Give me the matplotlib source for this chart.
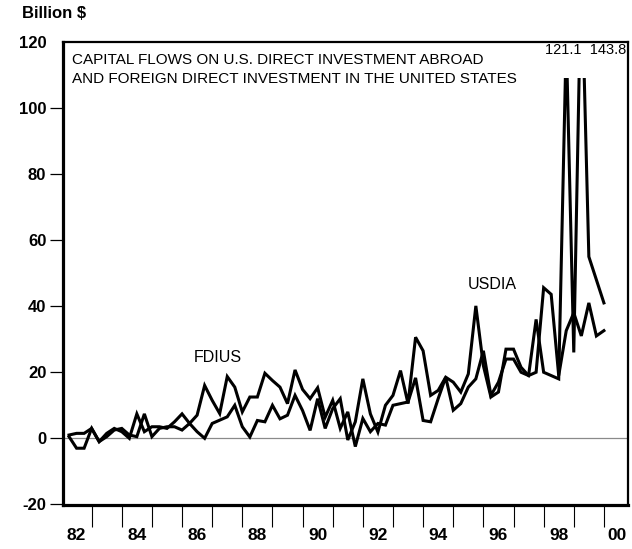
import numpy as np
import matplotlib
matplotlib.use('Agg')
import matplotlib.pyplot as plt
from matplotlib.patches import Rectangle

plt.rcParams['font.family'] = ['Liberation Sans', 'DejaVu Sans']

# ── 季度数据（十亿美元），1982Q1 - 1999Q4 ──────────────────────
first_year = 1982
last_year = 1999

fdius = [1.0, 1.5, 1.5, 3.0,   -1.0, 1.5, 3.0, 2.0,
         0.0, 7.4, 2.0, 3.5,   3.5, 3.0, 5.0, 7.4,
         4.5, 7.0, 16.0, 11.5, 7.5, 18.7, 15.5, 8.0,
         12.5, 12.5, 19.7, 17.5, 15.5, 10.5, 20.7, 14.8,
         12.0, 15.3, 6.4, 11.5, 3.0, 8.0, -2.5, 6.0,
         2.0, 4.5, 4.0, 10.0, 10.5, 11.0, 18.3, 5.4,
         5.0, 12.0, 18.5, 8.5, 10.5, 15.5, 18.0, 26.5,
         13.0, 17.0, 24.0, 24.0, 20.0, 19.0, 36.0, 20.0,
         19.0, 18.0, 121.1, 26.0, 143.8, 55.0, 48.0, 41.0]

usdia = [0.5, -3.0, -3.0, 3.0,  -1.0, 0.5, 2.5, 3.0,
         1.0, 0.5, 7.4, 0.5,    3.0, 3.5, 3.5, 2.5,
         4.5, 2.0, 0.0, 4.5,    5.5, 6.5, 10.0, 3.5,
         0.4, 5.4, 5.0, 10.0,   5.9, 7.0, 13.0, 8.4,
         2.4, 12.0, 3.0, 9.0,   12.0, -0.5, 5.0, 18.0,
         7.4, 1.9, 10.0, 13.0,  20.5, 10.5, 30.6, 26.5,
         13.0, 14.5, 18.5, 17.0, 14.0, 19.5, 40.1, 22.0,
         12.5, 14.0, 27.0, 27.0, 21.5, 19.0, 20.0, 45.6,
         43.6, 19.0, 32.6, 38.0, 31.0, 41.0, 31.0, 32.6]

spike_labels = ['121.1', '143.8']
year_labels = ['82', '84', '86', '88', '90', '92', '94', '96', '98', '00']
y_ticks = [-20, 0, 20, 40, 60, 80, 100, 120]

# 每个季度点画在该季度末
t = np.array([y + (q + 1) / 4.0
              for y in range(first_year, last_year + 1) for q in range(4)])

fig = plt.figure(figsize=(6.32, 5.49), dpi=100)
ax = fig.add_axes([0.0997, 0.0801, 0.894, 0.8434])

ax.set_xlim(1982.05, 2000.8)
ax.set_ylim(-20.2, 120)

# 零线
ax.axhline(0, color='#8a8a8a', lw=0.9, zorder=1)

# 超过 109 的部分截掉，峰值写在顶部
clip = Rectangle((1980, -30), 25, 139, transform=ax.transData)
for series in (fdius, usdia):
    ln, = ax.plot(t, series, color='black', lw=2.2,
                  solid_joinstyle='miter', zorder=3)
    ln.set_clip_path(clip)

# ── 坐标轴样式 ────────────────────────────────────────────────
for side in ('left', 'bottom'):
    ax.spines[side].set_linewidth(2.3)
for side in ('top', 'right'):
    ax.spines[side].set_linewidth(1.6)

ax.set_yticks(y_ticks)
ax.set_yticklabels([str(v) for v in y_ticks], fontsize=12, fontweight='bold')
ax.tick_params(axis='y', direction='out', length=9.5, width=0.9, pad=2.5)
ax.yaxis.get_major_ticks()[-1].tick1line.set_visible(False)

ax.set_xticks(np.arange(1983, 2001))
ax.set_xticklabels([])
ax.tick_params(axis='x', which='major', direction='out', length=16, width=0.8)

label_pos = [1982.5 + 2 * i for i in range(len(year_labels) - 1)] + [2000.43]
ax.set_xticks(label_pos, minor=True)
ax.set_xticklabels(year_labels, minor=True, fontsize=12.5, fontweight='bold')
ax.tick_params(axis='x', which='minor', length=0, pad=16.5)

# ── 文字 ─────────────────────────────────────────────────────
ax.text(0.016, 0.976,
        'CAPITAL FLOWS ON U.S. DIRECT INVESTMENT ABROAD\n'
        'AND FOREIGN DIRECT INVESTMENT IN THE UNITED STATES',
        transform=ax.transAxes, ha='left', va='top',
        fontsize=11, linespacing=1.4)

ax.text(0.997, 0.997, '  '.join(spike_labels), transform=ax.transAxes,
        ha='right', va='top', fontsize=10.5)

ax.text(1987.2, 24.5, 'FDIUS', ha='center', va='center', fontsize=11.5)
ax.text(1996.3, 46.5, 'USDIA', ha='center', va='center', fontsize=11.5)

fig.text(22 / 632, 1 - 14 / 549, 'Billion $', ha='left', va='center',
         fontsize=12, fontweight='bold')

fig.savefig('out.png', dpi=100)
